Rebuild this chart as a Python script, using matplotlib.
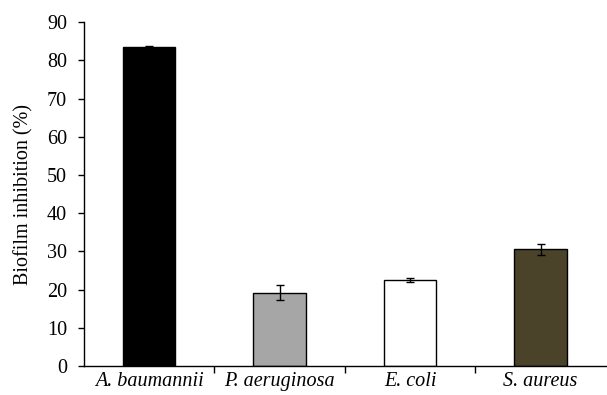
import matplotlib
matplotlib.use("Agg")
import matplotlib.pyplot as plt

# data
SPECIES = ["A. baumannii", "P. aeruginosa", "E. coli", "S. aureus"]
INHIBITION = [83.6, 19.2, 22.5, 30.6]
ERRORS = [0.15, 2.0, 0.6, 1.4]
COLORS = ["#000000", "#a6a6a6", "#ffffff", "#4a4229"]

plt.rcParams["font.family"] = ["Liberation Serif", "DejaVu Serif"]

fig = plt.figure(figsize=(6.07, 3.95), dpi=100)
ax = fig.add_axes([0.138, 0.073, 0.86, 0.871])

pos = list(range(len(SPECIES)))
ax.bar(pos, INHIBITION, width=0.4, color=COLORS, edgecolor="black", linewidth=1.0, zorder=2)
ax.errorbar(pos, INHIBITION, yerr=ERRORS, fmt="none", ecolor="black", elinewidth=1.0,
            capsize=3, capthick=1.0, zorder=3)

ax.set_xlim(-0.5, 3.5)
ax.set_ylim(0, 90)
ax.set_yticks(range(0, 91, 10))
ax.set_xticks(pos)
ax.set_xticklabels(SPECIES, fontstyle="italic", fontsize=14.5)
ax.set_xticks([0.5, 1.5, 2.5], minor=True)
ax.tick_params(axis="x", which="major", length=0, pad=4)
ax.tick_params(axis="x", which="minor", length=5, width=1, direction="out")
ax.tick_params(axis="y", length=4, width=1, direction="out", labelsize=14.5, pad=8)
ax.set_ylabel("Biofilm inhibition (%)", fontsize=14.5, labelpad=10)

ax.spines["top"].set_visible(False)
ax.spines["right"].set_visible(False)
ax.spines["left"].set_linewidth(1)
ax.spines["bottom"].set_linewidth(1)

fig.savefig("out.png", dpi=100)
